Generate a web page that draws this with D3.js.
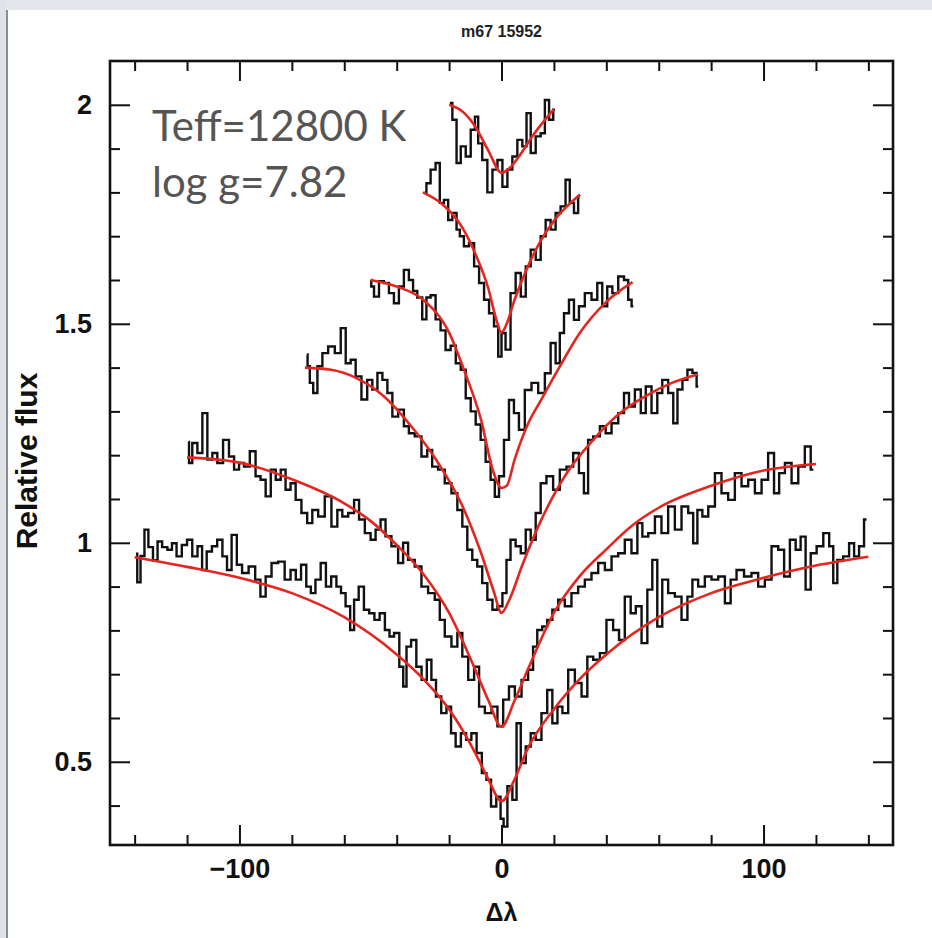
<!DOCTYPE html>
<html>
<head>
<meta charset="utf-8">
<script src="https://cdn.jsdelivr.net/npm/d3@7"></script>
<style>
html,body{margin:0;padding:0;background:#fff;}
svg{display:block;}
</style>
</head>
<body>
<svg id="chart" width="932" height="938"></svg>
<script>
// ---------- data ----------
const title = "m67 15952";
const xLabel = "Δλ";
const yLabel = "Relative flux";
const annotations = ["Teff=12800 K", "log g=7.82"];

const xMajorTicks = [-100, 0, 100];
const xMinorTicks = [-140, -120, -80, -60, -40, -20, 20, 40, 60, 80, 120, 140];
const yMajorTicks = [0.5, 1, 1.5, 2];
const yMinorTicks = [0.4, 0.6, 0.7, 0.8, 0.9, 1.1, 1.2, 1.3, 1.4, 1.6, 1.7, 1.8, 1.9];

// observed spectra (stepped, black), bottom to top
const obs1 = [[-139.5,0.975],[-138.5,0.91],[-137,0.97],[-135.5,1.03],[-134,0.99],[-132,0.96],[-130.5,1.003],[-128.5,0.99],[-126.5,0.984],[-125,0.999],[-123,0.969],[-121,0.995],[-119,1.007],[-117,0.969],[-115,0.992],[-113.5,0.938],[-111.5,0.98],[-109.5,0.992],[-107.5,1.007],[-105.5,0.969],[-104,0.938],[-102,1.018],[-100,0.95],[-98,0.931],[-95,0.946],[-93,0.916],[-91,0.877],[-89,0.923],[-86.5,0.954],[-84,0.957],[-81.5,0.916],[-79.5,0.938],[-77.5,0.916],[-75.5,0.95],[-73.5,0.9],[-72,0.885],[-70,0.916],[-68,0.954],[-66,0.9],[-64,0.923],[-62,0.9],[-60.5,0.885],[-58.5,0.855],[-57,0.801],[-55.5,0.87],[-53.5,0.9],[-51.5,0.847],[-49.5,0.839],[-47.5,0.824],[-45.5,0.839],[-43.5,0.801],[-42,0.786],[-40,0.794],[-38,0.717],[-37,0.672],[-35.5,0.763],[-33.5,0.778],[-31.5,0.717],[-29.5,0.687],[-27.5,0.733],[-26,0.687],[-24,0.649],[-22,0.611],[-20,0.626],[-18.5,0.565],[-16.5,0.535],[-14.5,0.565],[-12.5,0.55],[-10.5,0.565],[-8.5,0.52],[-6.5,0.474],[-5,0.459],[-3,0.398],[-1,0.42],[0.3,0.37],[1.3,0.352],[3.2,0.444],[5.1,0.413],[6.4,0.588],[8.3,0.497],[10.2,0.535],[12.1,0.565],[14.0,0.55],[16.5,0.611],[18.4,0.664],[20.4,0.588],[22.3,0.626],[24.2,0.611],[26.7,0.71],[29.3,0.68],[31.8,0.649],[33.7,0.74],[36.3,0.733],[38.8,0.748],[41.3,0.824],[43.9,0.801],[45.8,0.778],[48.3,0.877],[50.3,0.839],[52.2,0.855],[54.7,0.771],[56.6,0.893],[58.5,0.961],[60.4,0.809],[62.3,0.916],[64.9,0.885],[67.4,0.877],[70.0,0.824],[71.9,0.877],[73.8,0.916],[76.3,0.9],[78.9,0.923],[81.4,0.916],[84.0,0.923],[86.5,0.862],[88.4,0.916],[91.0,0.938],[94.1,0.923],[96.7,0.931],[99.2,0.9],[101.8,0.916],[104.3,0.992],[106.9,0.984],[108.8,0.923],[111.3,1.007],[113.2,0.984],[115.1,1.014],[117.0,0.893],[119.0,0.976],[121.5,0.992],[124.1,1.022],[126.0,0.992],[127.2,0.908],[129.1,0.961],[131.7,0.969],[133.6,0.999],[135.5,0.969],[137.4,0.992],[139.3,1.053]];

const obs2 = [[-119.5,1.23],[-119.0,1.182],[-117.0,1.228],[-115.1,1.205],[-113.2,1.296],[-111.3,1.19],[-109.4,1.205],[-107.5,1.182],[-105.0,1.235],[-103.0,1.197],[-101.1,1.167],[-99.2,1.182],[-97.3,1.174],[-94.8,1.209],[-92.9,1.152],[-91.0,1.144],[-89.0,1.106],[-87.1,1.167],[-85.2,1.144],[-83.3,1.167],[-81.5,1.121],[-79.5,1.136],[-77.6,1.098],[-75.1,1.068],[-73.2,1.045],[-71.2,1.075],[-68.7,1.06],[-66.2,1.106],[-63.6,1.037],[-61.7,1.075],[-59.8,1.06],[-57.2,1.068],[-55.3,1.098],[-53.4,1.053],[-50.9,1.022],[-49.0,1.007],[-47.1,1.03],[-45.2,1.053],[-43.3,1.015],[-40.7,0.992],[-38.2,0.954],[-36.9,1.0],[-34.4,0.961],[-31.8,0.946],[-29.3,0.9],[-26.7,0.885],[-24.2,0.87],[-22.9,0.824],[-20.4,0.786],[-17.8,0.763],[-15.9,0.794],[-14.0,0.74],[-11.4,0.687],[-9.5,0.717],[-7.6,0.626],[-5.1,0.611],[-2.5,0.626],[-0.6,0.581],[1.9,0.642],[3.8,0.672],[6.4,0.649],[8.9,0.687],[11.4,0.71],[12.7,0.763],[14.6,0.801],[16.5,0.809],[18.4,0.824],[20.4,0.847],[22.9,0.87],[25.4,0.855],[28.0,0.885],[30.5,0.9],[33.1,0.916],[35.6,0.931],[38.2,0.954],[40.7,0.938],[43.3,0.969],[45.8,0.976],[48.3,1.007],[50.9,0.976],[52.8,1.045],[54.7,1.014],[57.3,1.022],[59.8,1.06],[62.3,1.022],[64.9,1.083],[67.4,1.03],[70.0,1.083],[72.5,1.068],[73.8,0.999],[75.7,1.075],[77.6,1.06],[80.2,1.083],[82.7,1.159],[85.2,1.113],[87.8,1.098],[90.3,1.159],[92.9,1.129],[95.4,1.144],[98.0,1.113],[100.5,1.144],[103.0,1.205],[105.0,1.113],[106.9,1.159],[109.4,1.182],[112.0,1.136],[114.5,1.174],[117.0,1.22],[119.0,1.167]];

const obs3 = [[-74.2,1.43],[-73.8,1.403],[-72.5,1.365],[-71.2,1.342],[-69.3,1.403],[-67.4,1.433],[-64.9,1.448],[-62.3,1.433],[-60.4,1.49],[-58.5,1.41],[-56.6,1.418],[-54.7,1.38],[-52.2,1.327],[-50.3,1.372],[-48.3,1.35],[-46.4,1.388],[-44.5,1.372],[-42.6,1.342],[-40.7,1.288],[-38.2,1.304],[-36.3,1.266],[-34.4,1.25],[-31.8,1.243],[-29.3,1.197],[-27.4,1.212],[-25.5,1.174],[-22.9,1.167],[-20.4,1.136],[-17.8,1.113],[-15.9,1.075],[-14.0,1.037],[-12.1,0.984],[-10.2,0.961],[-8.3,0.946],[-6.4,0.908],[-4.4,0.87],[-2.5,0.847],[-0.6,0.855],[1.3,0.885],[2.5,0.961],[4.4,1.007],[6.4,0.992],[8.3,0.976],[10.2,1.03],[12.1,1.007],[14.0,1.068],[15.9,1.136],[18.4,1.152],[21.0,1.121],[23.5,1.167],[26.1,1.174],[28.6,1.205],[30.5,1.159],[32.4,1.113],[33.7,1.235],[36.3,1.243],[38.8,1.266],[40.7,1.25],[43.3,1.273],[45.8,1.296],[47.7,1.342],[49.6,1.311],[52.2,1.35],[54.1,1.296],[56.0,1.357],[58.5,1.296],[60.4,1.342],[62.3,1.372],[64.9,1.342],[66.2,1.273],[68.1,1.35],[70.0,1.372],[71.9,1.395],[73.8,1.388],[75.1,1.357]];

const obs4 = [[-49.8,1.6],[-49.6,1.585],[-47.7,1.562],[-45.8,1.597],[-43.9,1.593],[-42.0,1.57],[-40.1,1.547],[-38.2,1.585],[-36.3,1.623],[-34.4,1.6],[-33.1,1.575],[-31.2,1.56],[-29.3,1.51],[-28.0,1.56],[-26.1,1.565],[-24.2,1.51],[-22.3,1.485],[-20.4,1.44],[-18.4,1.45],[-16.5,1.41],[-14.6,1.395],[-12.7,1.33],[-10.8,1.3],[-8.9,1.27],[-7.0,1.235],[-5.1,1.185],[-3.2,1.144],[-1.9,1.105],[0,1.152],[1.9,1.235],[3.8,1.326],[5.7,1.296],[7.6,1.258],[10.2,1.349],[12.7,1.365],[15.3,1.342],[17.8,1.387],[19.7,1.456],[21.6,1.41],[22.9,1.479],[24.8,1.524],[26.7,1.555],[28.6,1.509],[30.5,1.54],[33.1,1.57],[35.6,1.555],[37.5,1.593],[39.4,1.54],[41.3,1.585],[43.3,1.57],[45.8,1.608],[47.7,1.6],[49.0,1.555],[50.3,1.54]];

const obs5 = [[-29.3,1.8],[-28.0,1.821],[-26.1,1.852],[-24.2,1.867],[-22.9,1.776],[-21.0,1.783],[-19.7,1.737],[-17.8,1.753],[-16.5,1.715],[-15.3,1.7],[-13.4,1.677],[-11.4,1.684],[-9.5,1.631],[-7.6,1.593],[-5.7,1.555],[-3.8,1.524],[-1.9,1.494],[-0.6,1.425],[0.6,1.479],[2.5,1.441],[4.4,1.57],[6.4,1.616],[8.3,1.562],[10.2,1.631],[12.1,1.669],[14.0,1.646],[15.9,1.7],[17.8,1.737],[19.7,1.715],[21.6,1.753],[23.5,1.768],[25.4,1.829],[26.7,1.776],[28.6,1.753],[29.9,1.791]];

const obs6 = [[-19.7,2.004],[-17.8,1.966],[-16.5,1.867],[-14.6,1.905],[-12.7,1.882],[-10.8,1.943],[-9.5,1.973],[-8.3,1.912],[-6.4,1.874],[-4.4,1.8],[-2.5,1.852],[-0.6,1.874],[1.3,1.813],[3.2,1.852],[5.1,1.882],[7.0,1.92],[8.9,1.905],[10.2,1.981],[12.1,1.89],[14.0,1.928],[15.9,1.935],[17.2,2.011],[19.1,1.966],[20.4,1.989]];

// model fits (smooth, red), bottom to top
const model1 = [[-140,0.967],[-120,0.945],[-100,0.92],[-80,0.885],[-60,0.83],[-40,0.745],[-30,0.69],[-20,0.62],[-10,0.52],[-5,0.46],[0,0.41],[5,0.46],[10,0.53],[20,0.62],[30,0.69],[40,0.745],[60,0.83],[80,0.885],[100,0.92],[120,0.948],[140,0.968]];
const model2 = [[-120,1.195],[-100,1.183],[-80,1.145],[-60,1.09],[-50,1.05],[-40,0.995],[-30,0.93],[-20,0.84],[-10,0.71],[-5,0.64],[0,0.58],[5,0.64],[10,0.71],[20,0.84],[30,0.925],[40,0.985],[50,1.04],[60,1.08],[80,1.13],[100,1.165],[120,1.18]];
const model3 = [[-75,1.40],[-65,1.395],[-55,1.375],[-45,1.335],[-35,1.27],[-25,1.19],[-15,1.085],[-8,0.98],[-3,0.89],[0,0.84],[3,0.87],[8,0.95],[15,1.05],[25,1.16],[35,1.235],[45,1.295],[55,1.335],[65,1.365],[75,1.385]];
const model4 = [[-50,1.60],[-40,1.585],[-30,1.555],[-20,1.48],[-14,1.39],[-8,1.285],[-3,1.16],[0,1.125],[2,1.13],[5,1.19],[10,1.27],[15,1.325],[22,1.40],[30,1.48],[40,1.55],[50,1.595]];
const model5 = [[-30,1.80],[-22,1.77],[-15,1.72],[-10,1.66],[-5,1.58],[-2,1.51],[0,1.48],[2,1.50],[5,1.555],[10,1.63],[15,1.69],[20,1.735],[30,1.795]];
const model6 = [[-20,2.0],[-15,1.985],[-10,1.95],[-5,1.895],[0,1.845],[3,1.855],[7,1.885],[12,1.93],[20,1.99]];

const observed = [obs1, obs2, obs3, obs4, obs5, obs6];
const models = [model1, model2, model3, model4, model5, model6];

// ---------- drawing ----------
const svg = d3.select("#chart");
const W = 932, H = 938;
const L = 110, R = 893, T = 61, B = 845;

// page chrome
svg.append("rect").attr("x",0).attr("y",0).attr("width",W).attr("height",H).attr("fill","#fff");
svg.append("rect").attr("x",0).attr("y",0).attr("width",W).attr("height",10).attr("fill","#e3e6ea");
svg.append("rect").attr("x",0).attr("y",0).attr("width",6).attr("height",H).attr("fill","#dfe2e6");
svg.append("rect").attr("x",6).attr("y",10).attr("width",2).attr("height",H-10).attr("fill","#8a8d92");

const x = d3.scaleLinear().domain([-149.4, 149.4]).range([L, R]);
const y = d3.scaleLinear().domain([0.31, 2.1]).range([B, T]);

const g = svg.append("g");

// spectra
const stepLine = d3.line().x(d => x(d[0])).y(d => y(d[1])).curve(d3.curveStep);
const smoothLine = d3.line().x(d => x(d[0])).y(d => y(d[1])).curve(d3.curveMonotoneX);

g.selectAll("path.obs").data(observed).join("path")
  .attr("class","obs").attr("d", stepLine)
  .attr("fill","none").attr("stroke","#111").attr("stroke-width",2.4)
  .attr("stroke-linejoin","miter");

g.selectAll("path.model").data(models).join("path")
  .attr("class","model").attr("d", smoothLine)
  .attr("fill","none").attr("stroke","#e3261f").attr("stroke-width",2.6);

// axes (ticks point inward)
const tickFont = "'Liberation Sans', Arial, sans-serif";
function styleAxis(sel){
  sel.select(".domain").remove();
  sel.selectAll(".tick line").attr("stroke","#111").attr("stroke-width",2);
  sel.selectAll(".tick text").attr("font-family",tickFont).attr("font-size",27)
     .attr("font-weight","bold").attr("fill","#111");
}
const fmtX = d => d3.format("")(d).replace("-", "\u2212");
const fmtY = d => String(d);

svg.append("g").attr("transform",`translate(0,${B})`)
  .call(d3.axisBottom(x).tickValues(xMajorTicks).tickSize(-20).tickPadding(14).tickFormat(fmtX)).call(styleAxis);
svg.append("g").attr("transform",`translate(0,${B})`)
  .call(d3.axisBottom(x).tickValues(xMinorTicks).tickSize(-10).tickFormat("")).call(styleAxis);
svg.append("g").attr("transform",`translate(0,${T})`)
  .call(d3.axisTop(x).tickValues(xMajorTicks).tickSize(-20).tickFormat("")).call(styleAxis);
svg.append("g").attr("transform",`translate(0,${T})`)
  .call(d3.axisTop(x).tickValues(xMinorTicks).tickSize(-10).tickFormat("")).call(styleAxis);

svg.append("g").attr("transform",`translate(${L},0)`)
  .call(d3.axisLeft(y).tickValues(yMajorTicks).tickSize(-20).tickPadding(18).tickFormat(fmtY)).call(styleAxis);
svg.append("g").attr("transform",`translate(${L},0)`)
  .call(d3.axisLeft(y).tickValues(yMinorTicks).tickSize(-10).tickFormat("")).call(styleAxis);
svg.append("g").attr("transform",`translate(${R},0)`)
  .call(d3.axisRight(y).tickValues(yMajorTicks).tickSize(-20).tickFormat("")).call(styleAxis);
svg.append("g").attr("transform",`translate(${R},0)`)
  .call(d3.axisRight(y).tickValues(yMinorTicks).tickSize(-10).tickFormat("")).call(styleAxis);

// frame
svg.append("rect").attr("x",L).attr("y",T).attr("width",R-L).attr("height",B-T)
  .attr("fill","none").attr("stroke","#111").attr("stroke-width",2.6);

// title and axis labels
svg.append("text").attr("x",(L+R)/2).attr("y",37).attr("text-anchor","middle")
  .attr("font-family",tickFont).attr("font-weight","bold").attr("font-size",16).attr("fill","#222")
  .text(title);
svg.append("text").attr("x",(L+R)/2).attr("y",921).attr("text-anchor","middle")
  .attr("font-family",tickFont).attr("font-weight","bold").attr("font-size",25).attr("fill","#111")
  .text(xLabel);
svg.append("text").attr("transform",`translate(37,${(T+B)/2+8}) rotate(-90)`).attr("text-anchor","middle")
  .attr("font-family",tickFont).attr("font-weight","bold").attr("font-size",30).attr("fill","#111")
  .text(yLabel);

// annotation
svg.selectAll("text.anno").data(annotations).join("text").attr("class","anno")
  .attr("x",152).attr("y",(d,i) => 141 + i*56)
  .attr("font-family","Lato, 'Open Sans', sans-serif").attr("font-size",42).attr("fill","#555")
  .text(d => d);
</script>
</body>
</html>
